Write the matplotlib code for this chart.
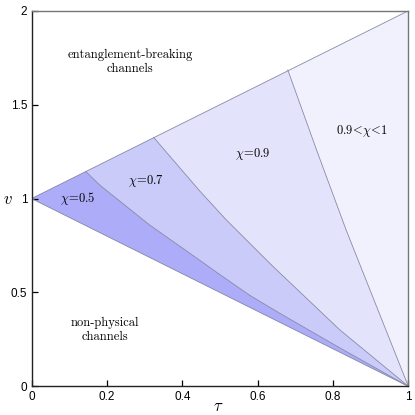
import numpy as np
import matplotlib
matplotlib.use('Agg')
import matplotlib.pyplot as plt

plt.rcParams['mathtext.fontset'] = 'cm'

# boundary curves: (tau, v) points, all ending at (1, 0)
chi05_tau = [0.144, 0.181, 0.313, 0.446, 0.500, 0.579, 0.658, 0.818, 1.0]
chi05_v = [1.144, 1.072, 0.860, 0.672, 0.595, 0.485, 0.390, 0.205, 0.0]

chi07_tau = [0.324, 0.350, 0.447, 0.516, 0.640, 0.818, 1.0]
chi07_v = [1.326, 1.265, 1.039, 0.888, 0.640, 0.301, 0.0]

chi09_tau = [0.680, 0.756, 0.835, 1.0]
chi09_v = [1.685, 1.261, 0.832, 0.0]

# region colours, darkest to lightest
colors = ['#acacf8', '#cbcbfa', '#e3e3fb', '#f1f1fd']
line_col = '#8a8aa8'

x_ticks = [0, 0.2, 0.4, 0.6, 0.8, 1]
x_labels = ['0', '0.2', '0.4', '0.6', '0.8', '1']
y_ticks = [0, 0.5, 1, 1.5, 2]
y_labels = ['0', '0.5', '1', '1.5', '2']

fig = plt.figure(figsize=(4.15, 4.15), dpi=100)
ax = fig.add_axes([0.076, 0.069, 0.908, 0.905])

tau = np.linspace(0, 1, 101)


def region(c_tau, c_v):
    # polygon: (0,1) along upper line to curve start, curve down to (1,0), lower line back
    t0 = c_tau[0]
    up = tau[tau < t0]
    xs = list(up) + list(c_tau) + list(tau[::-1])
    ys = list(1 + up) + list(c_v) + list(1 - tau[::-1])
    return xs, ys


# whole physical, non entanglement-breaking wedge
ax.fill(list(tau) + [1.0], list(1 + tau) + [0.0], color=colors[3], lw=0)
for (ct, cv), col in zip([(chi09_tau, chi09_v), (chi07_tau, chi07_v), (chi05_tau, chi05_v)],
                         [colors[2], colors[1], colors[0]]):
    xs, ys = region(ct, cv)
    ax.fill(xs, ys, color=col, lw=0)
    ax.plot(ct, cv, color=line_col, lw=0.6)

ax.plot(tau, 1 + tau, color=line_col, lw=0.6)
ax.plot(tau, 1 - tau, color=line_col, lw=0.6)

# labels
ax.text(0.124, 1.0, r'$\chi\!=\!0.5$', fontsize=9, ha='center', va='center')
ax.text(0.305, 1.092, r'$\chi\!=\!0.7$', fontsize=9, ha='center', va='center')
ax.text(0.586, 1.24, r'$\chi\!=\!0.9$', fontsize=9, ha='center', va='center')
ax.text(0.877, 1.359, r'$0.9\!<\!\chi\!<\!1$', fontsize=9, ha='center', va='center')
ax.text(0.261, 1.73, 'entanglement-breaking\nchannels', family='cmr10', fontsize=9,
        ha='center', va='center', linespacing=1.2)
ax.text(0.195, 0.30, 'non-physical\nchannels', family='cmr10', fontsize=9,
        ha='center', va='center', linespacing=1.2)

ax.set_xlim(0, 1)
ax.set_ylim(0, 2)
ax.set_xticks(x_ticks)
ax.set_xticklabels(x_labels)
ax.set_yticks(y_ticks)
ax.set_yticklabels(y_labels)
ax.tick_params(direction='in', length=4, width=0.9, labelsize=8.5, pad=3,
               top=False, right=False)
for lab in ax.get_xticklabels() + ax.get_yticklabels():
    lab.set_family('Liberation Sans')

for s in ['left', 'bottom']:
    ax.spines[s].set_color('#222222')
    ax.spines[s].set_linewidth(1.0)
for s in ['top', 'right']:
    ax.spines[s].set_color('#777777')
    ax.spines[s].set_linewidth(1.0)

fig.text(8 / 415, 1 - 199 / 415, r'$v$', fontsize=12, ha='center', va='center')
fig.text(218 / 415, 1 - 406 / 415, r'$\tau$', fontsize=12, ha='center', va='center')

fig.savefig('out.png', dpi=100)
